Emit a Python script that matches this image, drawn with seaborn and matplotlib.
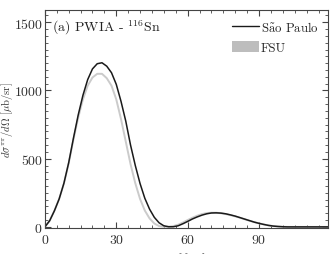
import seaborn as sns
import matplotlib.pyplot as plt
from matplotlib.lines import Line2D
from matplotlib.patches import Patch
from matplotlib.ticker import MultipleLocator

# scattering angle in degrees
theta = [0, 2, 4, 6, 8, 10, 12, 14, 16, 18, 20, 22, 24, 26, 28, 30, 32, 34,
         36, 38, 40, 42, 44, 46, 48, 50, 52, 54, 56, 58, 60, 62, 64, 66, 68,
         70, 72, 74, 76, 78, 80, 82, 84, 86, 88, 90, 92, 94, 96, 98, 100, 102,
         106, 110, 115, 120]

# cross sections [mub/sr]
sao_paulo = [0, 45, 118, 205, 320, 470, 650, 820, 965, 1080, 1158, 1196, 1203,
             1178, 1130, 1045, 920, 775, 600, 450, 318, 210, 130, 70, 30, 8,
             1, 1, 8, 23, 40, 58, 73, 86, 96, 102, 103, 101, 96, 88, 79, 68,
             57, 46, 35, 26, 18, 11, 6, 3, 1, 0,
             0, 0, 0, 0]
fsu = [0, 45, 118, 205, 318, 465, 640, 800, 935, 1035, 1095, 1122, 1122,
       1090, 1035, 935, 790, 625, 460, 320, 205, 120, 62, 25, 6, 1,
       2, 6, 16, 32, 50, 67, 82, 94, 101, 104, 104, 100, 94, 86, 77, 67,
       56, 45, 35, 26, 18, 11, 6, 3, 1, 0,
       0, 0, 0, 0]

sns.set_style("ticks")
plt.rcParams["font.family"] = ["cmr10", "DejaVu Serif"]
plt.rcParams["mathtext.fontset"] = "cm"
plt.rcParams["axes.formatter.use_mathtext"] = True

fig = plt.figure(figsize=(3.3, 2.55), dpi=100)
ax = fig.add_axes([0.136, 0.102, 0.858, 0.855])

sns.lineplot(x=theta, y=fsu, ax=ax, color="#cbcbcb", lw=1.4)
sns.lineplot(x=theta, y=sao_paulo, ax=ax, color="#1a1a1a", lw=1.1)

ax.set_xlim(0, 119)
ax.set_ylim(-8, 1590)
ax.xaxis.set_major_locator(MultipleLocator(30))
ax.xaxis.set_minor_locator(MultipleLocator(5))
ax.yaxis.set_major_locator(MultipleLocator(500))
ax.yaxis.set_minor_locator(MultipleLocator(50))
ax.tick_params(which="both", direction="in", top=True, right=True,
               labelsize=10, colors="#444444", labelcolor="#333333")
ax.tick_params(which="major", length=4, width=0.8)
ax.tick_params(which="minor", length=2, width=0.6)
ax.tick_params(axis="y", pad=1.5)
for s in ax.spines.values():
    s.set_color("#444444")
    s.set_linewidth(0.8)

ax.set_xlabel(r"$\theta$ [deg]", fontsize=10, color="#333333", labelpad=3)
ax.set_ylabel(r"$d\sigma^{\pi\pi}/d\Omega$ [$\mu$b/sr]", fontsize=7.6,
              color="#333333")
ax.yaxis.set_label_coords(-0.104, 0.5)

ax.text(0.025, 0.965, r"(a) PWIA - $^{116}$Sn", transform=ax.transAxes,
        fontsize=10, va="top", ha="left", color="#222222")

handles = [Line2D([], [], color="#1a1a1a", lw=1.0),
           Patch(facecolor="#bdbdbd", edgecolor="none")]
ax.legend(handles, [r"S$\tilde{\mathrm{a}}$o Paulo", "FSU"],
          loc="upper right", frameon=False,
          fontsize=9.2, handlelength=2.1, handleheight=1.0,
          handletextpad=0.15, borderaxespad=0.35, labelspacing=0.55)

plt.savefig("out.png", dpi=100)
